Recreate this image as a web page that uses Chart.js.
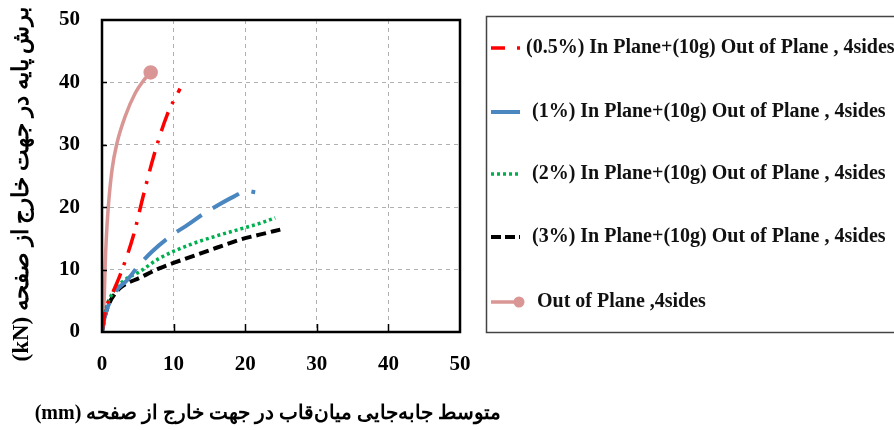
<!DOCTYPE html>
<html>
<head>
<meta charset="utf-8">
<script src="https://cdn.jsdelivr.net/npm/chart.js@4.4.0/dist/chart.umd.min.js"></script>
<style>
  body { margin: 0; background: #fff; }
</style>
</head>
<body>
<canvas id="myChart" width="894" height="430"></canvas>
<script>
// Values: average out-of-plane displacement (mm) / base shear (kN)
const ip05X = [0, 0.5, 1.5, 2.55, 4.4, 5.8, 7.3, 9.1, 10.9];
const ip05Y = [0, 3.5, 6.3, 9.2, 15.5, 22, 28.5, 34.8, 39];

const ip1X = [0, 0.4, 1.8, 3.5, 5.1, 7, 9.5, 12, 14, 16, 18.4, 20.2, 21.4];
const ip1Y = [0, 2.5, 6.3, 8.3, 10.6, 12.9, 15.3, 17.2, 18.8, 20.2, 21.7, 22.6, 22.4];

const ip2X = [0, 0.4, 1.5, 3, 5.3, 8, 12.3, 16, 19.3, 22, 24.2];
const ip2Y = [0, 3, 6.3, 8.2, 9.7, 11.8, 14, 15.4, 16.5, 17.4, 18.3];

const ip3X = [0, 0.4, 0.93, 1.85, 2.8, 5.3, 8, 12.3, 16, 19.3, 22, 24.9];
const ip3Y = [0, 2.5, 4.4, 6.2, 7.3, 8.7, 10.2, 12, 13.5, 14.8, 15.6, 16.4];

const oopX = [0, 0.3, 0.45, 0.6, 0.85, 1.4, 2.1, 3.25, 4.65, 5.8, 6.8];
const oopY = [0, 5, 11, 15, 19.6, 26, 30.3, 34.6, 38.3, 40.3, 41.6];

const seriesNames = [
  '(0.5%) In Plane+(10g) Out of Plane , 4sides',
  '(1%) In Plane+(10g) Out of Plane , 4sides',
  '(2%) In Plane+(10g) Out of Plane , 4sides',
  '(3%) In Plane+(10g) Out of Plane , 4sides',
  'Out of Plane ,4sides'
];
const xTicks = [0, 10, 20, 30, 40, 50];
const yTicks = [0, 10, 20, 30, 40, 50];

const xTitle = '\u202Bمتوسط جابه\u200Cجایی میان\u200Cقاب در جهت خارج از صفحه (mm)\u202C';
const yTitle = '\u202Bبرش پایه در جهت خارج از صفحه (kN)\u202C';

function toPoints(xs, ys) {
  return xs.map((v, i) => ({x: v, y: ys[i]}));
}

const serif = "'Liberation Serif', 'Times New Roman', serif";
// short legend samples use slightly tighter dashes
const legendDash = [[14, 12, 3, 10], [], [3, 3], [10, 4], []];

// frame, inner tick marks, axis titles and the boxed legend on the right
const frame = {
  id: 'frame',
  afterDraw(chart) {
    const ctx = chart.ctx;
    const a = chart.chartArea;
    const xs = chart.scales.x, ys = chart.scales.y;
    ctx.save();
    ctx.strokeStyle = '#000';
    ctx.lineWidth = 1.5;
    ctx.setLineDash([]);
    ctx.beginPath();
    xTicks.slice(1, -1).forEach(v => {
      const px = Math.round(xs.getPixelForValue(v)) + 0.5;
      ctx.moveTo(px, a.bottom); ctx.lineTo(px, a.bottom - 8);
    });
    yTicks.slice(1, -1).forEach(v => {
      const py = Math.round(ys.getPixelForValue(v)) + 0.5;
      ctx.moveTo(a.left, py); ctx.lineTo(a.left + 5, py);
    });
    ctx.stroke();
    ctx.lineWidth = 2.5;
    ctx.strokeRect(a.left, a.top, a.right - a.left, a.bottom - a.top);

    // axis titles (wider than the plot, so drawn here without squeezing)
    ctx.fillStyle = '#000';
    ctx.font = 'bold 20px ' + serif;
    ctx.textAlign = 'center';
    ctx.textBaseline = 'middle';
    ctx.fillText(xTitle, 268, 414);
    ctx.save();
    ctx.translate(22, 184);
    ctx.rotate(-Math.PI / 2);
    ctx.font = 'bold 23px ' + serif;
    ctx.fillText(yTitle, 0, 0);
    ctx.restore();

    // legend
    ctx.lineWidth = 1.5;
    ctx.strokeStyle = '#444';
    ctx.strokeRect(486.5, 16.5, 420, 316);
    const rowY = [48, 112, 174, 237, 302];
    const textX = [526, 532, 532, 532, 537];
    ctx.font = 'bold 20px ' + serif;
    ctx.textAlign = 'left';
    chart.data.datasets.forEach((ds, i) => {
      const y = rowY[i];
      ctx.strokeStyle = ds.borderColor;
      ctx.lineWidth = ds.borderWidth;
      ctx.setLineDash(legendDash[i]);
      ctx.beginPath();
      ctx.moveTo(491, y); ctx.lineTo(520, y);
      ctx.stroke();
      ctx.setLineDash([]);
      if (i === 4) {
        ctx.fillStyle = ds.borderColor;
        ctx.beginPath(); ctx.arc(519, y, 5.5, 0, Math.PI * 2); ctx.fill();
      }
      ctx.fillStyle = '#111';
      ctx.fillText(ds.label, textX[i], y);
    });
    ctx.restore();
  }
};

const ctx = document.getElementById('myChart').getContext('2d');
const myChart = new Chart(ctx, {
  type: 'scatter',
  data: {
    datasets: [
      {
        label: seriesNames[0],
        data: toPoints(ip05X, ip05Y),
        borderColor: '#ff0000',
        borderWidth: 3.5,
        borderDash: [20, 9, 3, 10]
      },
      {
        label: seriesNames[1],
        data: toPoints(ip1X, ip1Y),
        borderColor: '#4a86c0',
        borderWidth: 4,
        borderDash: [30, 13]
      },
      {
        label: seriesNames[2],
        data: toPoints(ip2X, ip2Y),
        borderColor: '#00b050',
        borderWidth: 3.5,
        borderDash: [3, 3]
      },
      {
        label: seriesNames[3],
        data: toPoints(ip3X, ip3Y),
        borderColor: '#000000',
        borderWidth: 4,
        borderDash: [10, 5]
      },
      {
        label: seriesNames[4],
        data: toPoints(oopX, oopY),
        borderColor: '#d99694',
        backgroundColor: '#d99694',
        borderWidth: 3.5,
        pointRadius: c => c.dataIndex === oopX.length - 1 ? 5.5 : 0
      }
    ]
  },
  options: {
    responsive: false,
    animation: false,
    showLine: true,
    layout: { padding: { top: 20, right: 434, left: 0, bottom: 0 } },
    elements: {
      point: { radius: 0, hoverRadius: 0 },
      line: { cubicInterpolationMode: 'monotone', fill: false }
    },
    plugins: {
      legend: { display: false },
      tooltip: { enabled: false }
    },
    scales: {
      x: {
        type: 'linear',
        min: 0, max: 50,
        afterFit: s => { s.height = 98; },
        afterBuildTicks: s => { s.ticks = xTicks.map(v => ({value: v})); },
        grid: { color: '#b0b0b0', lineWidth: 1, drawTicks: false },
        border: { display: false, dash: [4, 4] },
        ticks: { color: '#000', padding: 20, font: { family: serif, size: 21, weight: 'bold' } }
      },
      y: {
        type: 'linear',
        min: 0, max: 50,
        afterFit: s => { s.width = 102; s.paddingTop = 0; s.paddingBottom = 0; },
        afterBuildTicks: s => { s.ticks = yTicks.map(v => ({value: v})); },
        grid: { color: '#b0b0b0', lineWidth: 1, drawTicks: false },
        border: { display: false, dash: [4, 4] },
        ticks: { color: '#000', padding: 22, font: { family: serif, size: 21, weight: 'bold' } }
      }
    }
  },
  plugins: [frame]
});
</script>
</body>
</html>
